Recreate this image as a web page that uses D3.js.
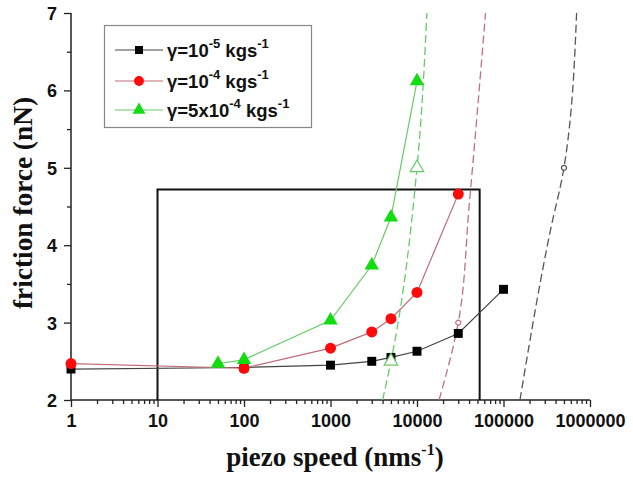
<!DOCTYPE html>
<html>
<head>
<meta charset="utf-8">
<script src="https://cdn.jsdelivr.net/npm/d3@7"></script>
<style>
  body { margin: 0; background: #fff; }
  svg { display: block; }
  .tick-label { font-family: "Liberation Sans", Arial, sans-serif; font-weight: bold; font-size: 18px; fill: #111; }
  .axis-title { font-family: "Liberation Serif", "Times New Roman", serif; font-weight: bold; font-size: 27px; fill: #111; }
  .legend-text { font-family: "Liberation Sans", Arial, sans-serif; font-weight: bold; font-size: 18.5px; fill: #111; }
</style>
</head>
<body>
<svg id="chart" width="633" height="477"></svg>
<script>
// Datos
const speedsBlack = [1, 100, 1000, 3000, 5000, 10000, 30000, 100000];
const forceBlack = [2.40, 2.42, 2.45, 2.50, 2.55, 2.63, 2.86, 3.43];

const speedsRed = [1, 100, 1000, 3000, 5000, 10000, 30000];
const forceRed = [2.47, 2.41, 2.67, 2.88, 3.05, 3.39, 4.66];

const speedsGreen = [50, 100, 1000, 3000, 5000, 10000];
const forceGreen = [2.47, 2.52, 3.03, 3.74, 4.36, 6.12];

// Curvas discontinuas (modelo)
const dashGreenX = [4000, 5000, 10000, 13000];
const dashGreenY = [2, 2.5, 5, 7];
const dashRedX = [18000, 30000, 40000, 62000];
const dashRedY = [2, 3, 4.5, 7];
const dashBlackX = [155000, 350000, 500000, 700000];
const dashBlackY = [2, 4.2, 5, 7];

// Puntos huecos sobre las curvas discontinuas
const openGreenX = [5000, 10000];
const openGreenY = [2.5, 5];
const openRedX = [30000];
const openRedY = [3];
const openBlackX = [500000];
const openBlackY = [5];

// Rectángulo
const boxX = [10, 53000];
const boxY = [2, 4.72];

const xTicks = [1, 10, 100, 1000, 10000, 100000, 1000000];
const yTicks = [2, 3, 4, 5, 6, 7];
const yMinorTicks = [2.5, 3.5, 4.5, 5.5, 6.5];

const legendLabels = [
    ['γ=10', '-5', ' kgs', '-1'],
    ['γ=10', '-4', ' kgs', '-1'],
    ['γ=5x10', '-4', ' kgs', '-1']
];

const svg = d3.select('#chart');

const x = d3.scaleLog().domain([1, 1000000]).range([71, 590]);
const y = d3.scaleLinear().domain([2, 7]).range([400, 13]);

const zip = (xs, ys) => xs.map((v, i) => [v, ys[i]]);
const line = d3.line().x(d => x(d[0])).y(d => y(d[1]));
const curve = d3.line().x(d => x(d[0])).y(d => y(d[1])).curve(d3.curveMonotoneY);

// Ejes
const xMinorTicks = [];
for (let e = 0; e < 6; e++) {
    for (let m = 2; m <= 9; m++) xMinorTicks.push(m * Math.pow(10, e));
}

function styleAxis(g) {
    g.select('.domain').remove();
    g.selectAll('.tick line').attr('stroke', '#222').attr('stroke-width', 1.3);
}

svg.append('g').attr('transform', 'translate(0,400)')
    .call(d3.axisBottom(x).tickValues(xMinorTicks).tickSize(4).tickFormat(''))
    .call(styleAxis);
const xMajor = svg.append('g').attr('transform', 'translate(0,400)')
    .call(d3.axisBottom(x).tickValues(xTicks).tickSize(7).tickFormat(d3.format('d')))
    .call(styleAxis);
xMajor.selectAll('.tick text').attr('class', 'tick-label').attr('y', 10).attr('dy', '0.95em');

svg.append('g').attr('transform', 'translate(71,0)')
    .call(d3.axisLeft(y).tickValues(yMinorTicks).tickSize(4).tickFormat(''))
    .call(styleAxis);
const yMajor = svg.append('g').attr('transform', 'translate(71,0)')
    .call(d3.axisLeft(y).tickValues(yTicks).tickSize(7).tickFormat(d3.format('d')))
    .call(styleAxis);
yMajor.selectAll('.tick text').attr('class', 'tick-label').attr('x', -14).attr('dy', '0.36em');

svg.append('path')
    .attr('d', `M${x(1)},${y(7)}V${y(2)}H${x(1000000)}`)
    .attr('fill', 'none').attr('stroke', '#222').attr('stroke-width', 1.5);

// Títulos de ejes
const xt = svg.append('text').attr('class', 'axis-title')
    .attr('x', 335).attr('y', 466).attr('text-anchor', 'middle');
xt.append('tspan').text('piezo speed (nms');
xt.append('tspan').attr('font-size', 16).attr('dy', -11).text('-1');
xt.append('tspan').attr('dy', 11).text(')');

svg.append('text').attr('class', 'axis-title')
    .attr('transform', 'translate(32,203) rotate(-90)')
    .attr('text-anchor', 'middle')
    .attr('textLength', 212).attr('lengthAdjust', 'spacingAndGlyphs')
    .text('friction force (nN)');

// Rectángulo
svg.append('path')
    .attr('d', `M${x(boxX[0])},${y(boxY[0])}V${y(boxY[1])}H${x(boxX[1])}V${y(boxY[0])}`)
    .attr('fill', 'none').attr('stroke', '#111').attr('stroke-width', 2);

// Curvas discontinuas
const dashed = [
    [dashGreenX, dashGreenY, '#66cc66'],
    [dashRedX, dashRedY, '#c07080'],
    [dashBlackX, dashBlackY, '#555']
];
dashed.forEach(([xs, ys, c]) => {
    svg.append('path').datum(zip(xs, ys))
        .attr('d', curve).attr('fill', 'none')
        .attr('stroke', c).attr('stroke-width', 1.3).attr('stroke-dasharray', '8,4');
});

// Series con marcadores
const series = [
    { xs: speedsBlack, ys: forceBlack, line: '#444', fill: '#000', sym: d3.symbolSquare, size: 80 },
    { xs: speedsRed, ys: forceRed, line: '#bf6b78', fill: '#ff0a0a', sym: d3.symbolCircle, size: 95 },
    { xs: speedsGreen, ys: forceGreen, line: '#66cc66', fill: '#11dd11', sym: d3.symbolTriangle, size: 90 }
];
series.forEach(s => {
    const pts = zip(s.xs, s.ys);
    svg.append('path').datum(pts).attr('d', line)
        .attr('fill', 'none').attr('stroke', s.line).attr('stroke-width', 1.2);
    svg.append('g').selectAll('path').data(pts).join('path')
        .attr('transform', d => `translate(${x(d[0])},${y(d[1])})`)
        .attr('d', d3.symbol().type(s.sym).size(s.size))
        .attr('fill', s.fill);
});

// Marcadores huecos
const openSets = [
    [openGreenX, openGreenY, '#66cc66', d3.symbolTriangle, 80],
    [openRedX, openRedY, '#c07080', d3.symbolCircle, 20],
    [openBlackX, openBlackY, '#555', d3.symbolCircle, 20]
];
openSets.forEach(([xs, ys, c, sym, sz]) => {
    svg.append('g').selectAll('path').data(zip(xs, ys)).join('path')
        .attr('transform', d => `translate(${x(d[0])},${y(d[1])})`)
        .attr('d', d3.symbol().type(sym).size(sz))
        .attr('fill', '#fff').attr('stroke', c).attr('stroke-width', 1.2);
});

// Leyenda
svg.append('rect').attr('x', 104.5).attr('y', 25.5).attr('width', 207).attr('height', 102)
    .attr('fill', '#fff').attr('stroke', '#888').attr('stroke-width', 1.2);
const legendY = [50, 81, 110];
series.forEach((s, i) => {
    const ly = legendY[i];
    svg.append('line').attr('x1', 115).attr('x2', 163).attr('y1', ly).attr('y2', ly)
        .attr('stroke', s.line).attr('stroke-width', 1.2);
    svg.append('path').attr('transform', `translate(139,${ly})`)
        .attr('d', d3.symbol().type(s.sym).size(s.size * 0.8)).attr('fill', s.fill);
    const t = svg.append('text').attr('class', 'legend-text').attr('x', 167).attr('y', ly + 7);
    const p = legendLabels[i];
    t.append('tspan').text(p[0]);
    t.append('tspan').attr('font-size', 13).attr('dy', -9).text(p[1]);
    t.append('tspan').attr('dy', 9).text(p[2]);
    t.append('tspan').attr('font-size', 13).attr('dy', -9).text(p[3]);
});
</script>
</body>
</html>
